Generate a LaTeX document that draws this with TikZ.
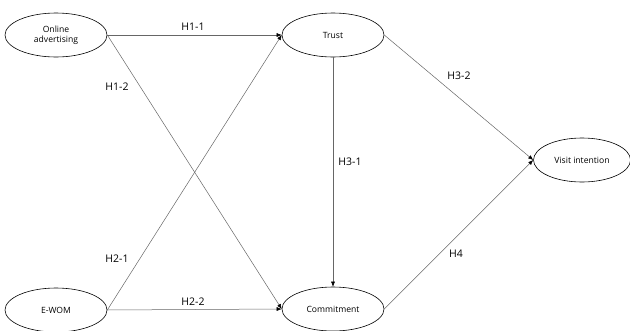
\documentclass[tikz,border=0pt]{standalone}
\usepackage{fontspec}
\setmainfont{Open Sans}
\usetikzlibrary{shapes.geometric,arrows.meta}
\begin{document}
\begin{tikzpicture}[x=1pt,y=-1pt,
  var/.style={draw=black, line width=0.6pt, ellipse, minimum width=102pt, minimum height=44pt, inner sep=0pt, align=center, font=\fontsize{8.6}{10}\selectfont},
  conn/.style={draw=gray!80!black, line width=0.5pt, -{Latex[length=5pt,width=4pt,black]}},
  lab/.style={font=\fontsize{10.5}{12}\selectfont, inner sep=0pt}]
\useasboundingbox (0,0) rectangle (630,330);
\node[var] (oa) at (56,35) {Online\\advertising};
\node[var] (ew) at (56,310) {E-WOM};
\node[var] (tr) at (333,35) {Trust};
\node[var] (co) at (333,309) {Commitment};
\node[var, minimum width=97pt] (vi) at (582,160) {Visit intention};
\draw[conn] (oa.east) -- (tr.west);
\draw[conn] (oa.east) -- (co.west);
\draw[conn] (ew.east) -- (tr.west);
\draw[conn] (ew.east) -- (co.west);
\draw[conn] (tr.south) -- (co.north);
\draw[conn] (tr.east) -- (vi.west);
\draw[conn] (co.east) -- (vi.west);
\node[lab] (l11) at (193,27) {H1-1};
\node[lab] (l12) at (117,87) {H1-2};
\node[lab] (l21) at (117,259) {H2-1};
\node[lab] (l22) at (193,302) {H2-2};
\node[lab] (l31) at (350,162) {H3-1};
\node[lab] (l32) at (459,76) {H3-2};
\node[lab] (l4) at (456,254) {H4};
\end{tikzpicture}
\end{document}
